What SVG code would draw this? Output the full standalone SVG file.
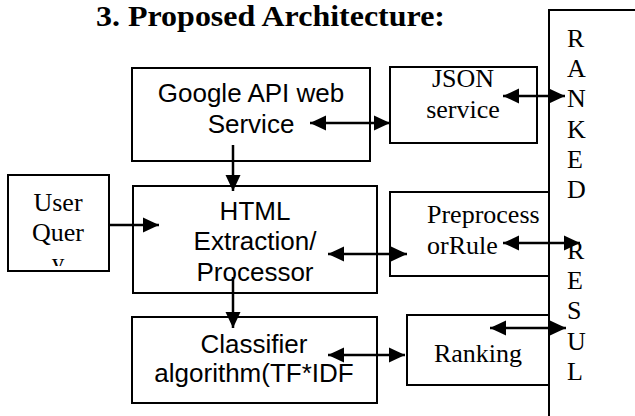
<svg xmlns="http://www.w3.org/2000/svg" width="635" height="416" viewBox="0 0 635 416">
  <style>
    .box { fill: #ffffff; stroke: #000000; stroke-width: 2; }
    .sans { font-family: "Liberation Sans", Arial, sans-serif; font-size: 26px; fill: #000000; }
    .serif { font-family: "Liberation Serif", "Times New Roman", serif; font-size: 26px; fill: #000000; }
    .title { font-family: "Liberation Serif", "Times New Roman", serif; font-size: 29px; font-weight: bold; fill: #000000; }
    .link { stroke: #000000; stroke-width: 2.5; fill: none; }
    .one { marker-end: url(#head); }
    .two { marker-start: url(#head); marker-end: url(#head); }
  </style>
  <defs>
    <marker id="head" markerUnits="userSpaceOnUse" markerWidth="16" markerHeight="16" refX="16" refY="8" orient="auto-start-reverse">
      <path d="M0,0.5 L16,8 L0,15.5 Z" fill="#000000"/>
    </marker>
    <clipPath id="userClip">
      <rect x="9" y="176" width="99" height="90"/>
    </clipPath>
  </defs>

  <rect width="635" height="416" fill="#ffffff"/>

  <text class="title" x="96" y="26" textLength="349" lengthAdjust="spacingAndGlyphs">3. Proposed Architecture:</text>

  <!-- ranked results column, right edge runs past the page -->
  <g id="ranked">
    <rect class="box" x="549" y="10" width="200" height="500"/>
    <text class="serif" x="567" y="47">R</text>
    <text class="serif" x="567" y="77">A</text>
    <text class="serif" x="567" y="107">N</text>
    <text class="serif" x="567" y="138">K</text>
    <text class="serif" x="567" y="168">E</text>
    <text class="serif" x="567" y="198">D</text>
    <text class="serif" x="567" y="259">R</text>
    <text class="serif" x="567" y="289">E</text>
    <text class="serif" x="567" y="319">S</text>
    <text class="serif" x="567" y="350">U</text>
    <text class="serif" x="567" y="380">L</text>
  </g>

  <g id="google">
    <rect class="box" x="132" y="68" width="238" height="93"/>
    <text class="sans" x="251" y="102" text-anchor="middle">Google API web</text>
    <text class="sans" x="251" y="133" text-anchor="middle">Service</text>
  </g>

  <g id="json">
    <rect class="box" x="390" y="67" width="147" height="76"/>
    <text class="serif" x="463" y="87" text-anchor="middle">JSON</text>
    <text class="serif" x="463" y="118" text-anchor="middle">service</text>
  </g>

  <g id="user">
    <rect class="box" x="8" y="175" width="101" height="96"/>
    <g clip-path="url(#userClip)">
      <text class="serif" x="58" y="211" text-anchor="middle">User</text>
      <text class="serif" x="58" y="241" text-anchor="middle">Quer</text>
      <text class="serif" x="58" y="271" text-anchor="middle">y</text>
    </g>
  </g>

  <g id="html">
    <rect class="box" x="133" y="186" width="244" height="107"/>
    <text class="sans" x="255" y="220" text-anchor="middle">HTML</text>
    <text class="sans" x="255" y="250" text-anchor="middle">Extraction/</text>
    <text class="sans" x="255" y="281" text-anchor="middle">Processor</text>
  </g>

  <g id="preprocess">
    <rect class="box" x="390" y="192" width="159" height="84"/>
    <text class="serif" x="427" y="223">Preprocess</text>
    <text class="serif" x="427" y="254">orRule</text>
  </g>

  <g id="classifier">
    <rect class="box" x="132" y="317" width="245" height="86"/>
    <text class="sans" x="254" y="353" text-anchor="middle">Classifier</text>
    <text class="sans" x="254" y="382" text-anchor="middle">algorithm(TF*IDF</text>
  </g>

  <g id="ranking">
    <rect class="box" x="407" y="315" width="142" height="70"/>
    <text class="serif" x="478" y="362" text-anchor="middle">Ranking</text>
  </g>

  <g id="connectors">
    <line class="link two" x1="310" y1="123" x2="390" y2="123"/>
    <line class="link two" x1="503" y1="96" x2="565" y2="96"/>
    <line class="link one" x1="233" y1="145" x2="233" y2="191"/>
    <line class="link one" x1="109" y1="225" x2="159" y2="225"/>
    <line class="link two" x1="328" y1="254" x2="407" y2="254"/>
    <line class="link two" x1="503" y1="243" x2="580" y2="243"/>
    <line class="link one" x1="233" y1="277" x2="233" y2="328"/>
    <line class="link two" x1="328" y1="355" x2="405" y2="355"/>
    <line class="link two" x1="490" y1="328" x2="566" y2="328"/>
  </g>
</svg>
